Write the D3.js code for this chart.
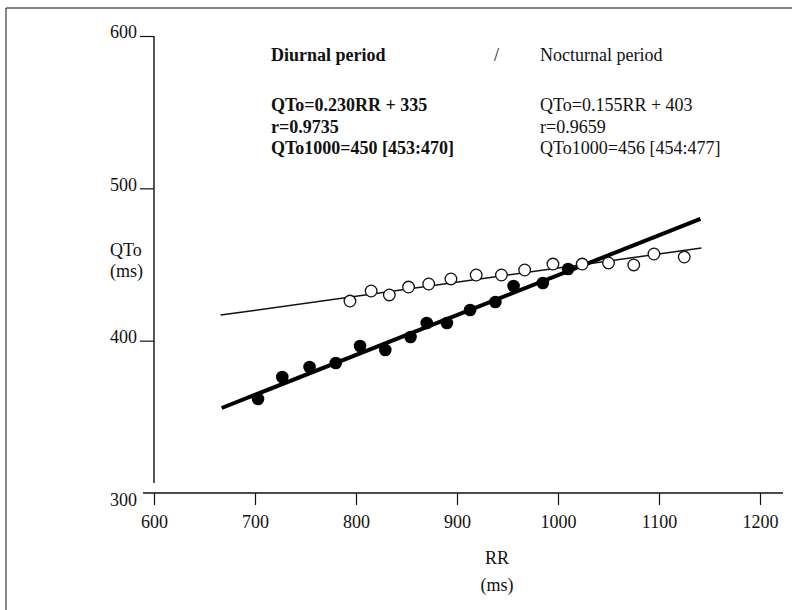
<!DOCTYPE html>
<html>
<head>
<meta charset="utf-8">
<script src="https://cdn.jsdelivr.net/npm/d3@7"></script>
<style>
  html, body { margin: 0; padding: 0; background: #fff; }
  svg { display: block; }
  text { font-family: "Liberation Serif", "DejaVu Serif", serif; fill: #111; }
</style>
</head>
<body>
<svg id="chart" width="792" height="610"></svg>
<script>
// Data
const diurnalRR  = [703, 727, 754, 780, 804, 829, 854, 870, 890, 913, 938, 956, 985, 1010];
const diurnalQT  = [361.7, 376.1, 382.7, 385.3, 396.5, 393.9, 402.4, 411.6, 411.6, 420.1, 425.4, 435.9, 437.9, 447.0];
const nocturnalRR = [794, 815, 833, 852, 872, 894, 919, 944, 967, 995, 1024, 1050, 1075, 1095, 1125];
const nocturnalQT = [426.0, 432.6, 430.0, 435.2, 437.2, 440.5, 443.1, 443.1, 446.4, 450.3, 450.3, 451.0, 449.7, 456.9, 454.9];
const diurnalFitRR = [667, 1141];
const diurnalFitQT = [355.8, 479.9];
const nocturnalFitRR = [666, 1142];
const nocturnalFitQT = [416.8, 460.8];
const xTicks = [600, 700, 800, 900, 1000, 1100, 1200];
const yTicks = [600, 500, 400, 300];
const diurnalText = ["QTo=0.230RR + 335", "r=0.9735", "QTo1000=450 [453:470]"];
const nocturnalText = ["QTo=0.155RR + 403", "r=0.9659", "QTo1000=456 [454:477]"];

const FS = 18;
const svg = d3.select("#chart");
const x = d3.scaleLinear().domain([600, 1200]).range([154, 760]);
const y = d3.scaleLinear().domain([300, 600]).range([493, 36]);

// page frame (left and top edges)
svg.append("line").attr("x1", 6).attr("x2", 6).attr("y1", 8).attr("y2", 610)
  .attr("stroke", "#111").attr("stroke-width", 1);
svg.append("line").attr("x1", 6).attr("x2", 792).attr("y1", 8).attr("y2", 8)
  .attr("stroke", "#111").attr("stroke-width", 1.2);

// Y axis
const yAxis = d3.axisLeft(y).tickValues(yTicks.filter(d => d !== 300)).tickSize(14).tickSizeOuter(0).tickFormat(d3.format("d"));
const gy = svg.append("g").attr("transform", `translate(${x(600)},0)`).call(yAxis);
gy.select(".domain").remove();
gy.selectAll(".tick line").attr("stroke", "#111").attr("stroke-width", 1.2);
gy.selectAll(".tick text").attr("font-size", FS).attr("x", -17).attr("dy", "0.1em")
  .style("font-family", "Liberation Serif").attr("fill", "#111");
svg.append("line").attr("x1", x(600)).attr("x2", x(600)).attr("y1", y(600)).attr("y2", y(300) - 10)
  .attr("stroke", "#111").attr("stroke-width", 1.4);
svg.append("text").attr("x", x(600) - 17).attr("y", y(300) + 13).attr("text-anchor", "end")
  .attr("font-size", FS).text("300");

// X axis
const xAxis = d3.axisBottom(x).tickValues(xTicks).tickSize(12).tickSizeOuter(0).tickFormat(d3.format("d"));
const gx = svg.append("g").attr("transform", `translate(0,${y(300)})`).call(xAxis);
gx.select(".domain").remove();
gx.selectAll(".tick line").attr("stroke", "#111").attr("stroke-width", 1.2);
gx.selectAll(".tick text").attr("font-size", FS).attr("y", 22).attr("dy", "0.71em")
  .style("font-family", "Liberation Serif").attr("fill", "#111");
svg.append("line").attr("x1", 143).attr("x2", 783).attr("y1", y(300)).attr("y2", y(300))
  .attr("stroke", "#111").attr("stroke-width", 1.6);

// regression lines
const line = d3.line().x(d => x(d[0])).y(d => y(d[1]));
svg.append("path").datum(nocturnalFitRR.map((r, i) => [r, nocturnalFitQT[i]]))
  .attr("d", line).attr("stroke", "#111").attr("stroke-width", 1.5).attr("fill", "none");
svg.append("path").datum(diurnalFitRR.map((r, i) => [r, diurnalFitQT[i]]))
  .attr("d", line).attr("stroke", "#000").attr("stroke-width", 4).attr("fill", "none");

// points
svg.append("g").selectAll("circle").data(nocturnalRR.map((r, i) => [r, nocturnalQT[i]]))
  .join("circle").attr("cx", d => x(d[0])).attr("cy", d => y(d[1])).attr("r", 5.8)
  .attr("fill", "#fff").attr("stroke", "#111").attr("stroke-width", 1.3);
svg.append("g").selectAll("circle").data(diurnalRR.map((r, i) => [r, diurnalQT[i]]))
  .join("circle").attr("cx", d => x(d[0])).attr("cy", d => y(d[1])).attr("r", 6.3)
  .attr("fill", "#000");

// annotations
svg.append("text").attr("x", 271).attr("y", 61).attr("font-size", FS).attr("font-weight", "bold").text("Diurnal period");
svg.append("text").attr("x", 494).attr("y", 61).attr("font-size", FS).text("/");
svg.append("text").attr("x", 540).attr("y", 61).attr("font-size", FS).text("Nocturnal period");
diurnalText.forEach((t, i) => {
  svg.append("text").attr("x", 271).attr("y", 111 + i * 21.5).attr("font-size", FS).attr("font-weight", "bold").text(t);
});
nocturnalText.forEach((t, i) => {
  svg.append("text").attr("x", 540).attr("y", 111 + i * 21.5).attr("font-size", FS).text(t);
});

// axis titles
svg.append("text").attr("x", 110).attr("y", 256).attr("font-size", FS).text("QTo");
svg.append("text").attr("x", 110).attr("y", 277).attr("font-size", FS).text("(ms)");
svg.append("text").attr("x", 497).attr("y", 564).attr("text-anchor", "middle").attr("font-size", FS).text("RR");
svg.append("text").attr("x", 497).attr("y", 591).attr("text-anchor", "middle").attr("font-size", FS).text("(ms)");
</script>
</body>
</html>
